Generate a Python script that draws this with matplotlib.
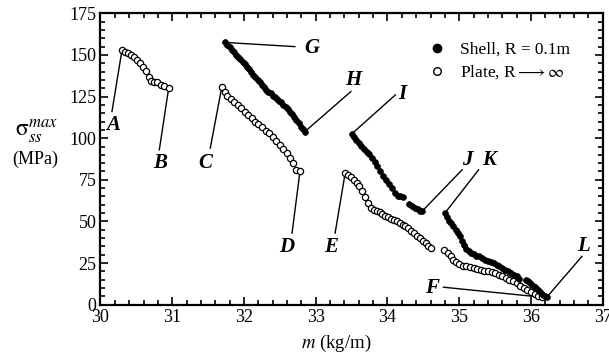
import numpy as np
import matplotlib
matplotlib.use('Agg')
import matplotlib.pyplot as plt
from matplotlib.ticker import MultipleLocator
from matplotlib.lines import Line2D

plt.rcParams['font.family'] = ['Liberation Serif', 'DejaVu Serif']
plt.rcParams['mathtext.fontset'] = 'stix'

# plate, R -> infinity (open circles)
plate_ab_m = [30.30, 30.34, 30.38, 30.42, 30.47, 30.51, 30.55, 30.59, 30.63, 30.67, 30.71, 30.75, 30.79, 30.84, 30.89, 30.95]
plate_ab_s = [153, 152, 151, 150, 148.5, 147, 145, 143, 140.5, 137, 134.5, 134, 133.5, 132, 131.5, 130]

plate_cd_m = [31.69, 31.73, 31.77, 31.82, 31.86, 31.91, 31.96, 32.01, 32.06, 32.11, 32.15, 32.20, 32.25, 32.30,
              32.35, 32.40, 32.45, 32.50, 32.55, 32.60, 32.64, 32.68, 32.73, 32.78]
plate_cd_s = [130.5, 127.5, 125.5, 123.5, 121.5, 120, 118, 116, 114, 112, 110, 108.5, 106.5, 104.5,
              103, 101, 98.5, 96, 93.5, 91, 88, 85, 81, 80]

plate_e_m = [33.41, 33.45, 33.49, 33.53, 33.57, 33.61, 33.65, 33.69, 33.73, 33.77, 33.81, 33.85, 33.89, 33.93,
             33.97, 34.01, 34.05, 34.09, 34.13, 34.17, 34.21, 34.25, 34.29, 34.33, 34.37, 34.41, 34.45, 34.49,
             34.53, 34.57, 34.61]
plate_e_s = [79, 78, 76.5, 75, 73, 71, 68, 64.5, 61, 58, 57, 56.5, 55.5, 54.5,
             53.5, 52.5, 51.5, 51, 50, 49, 48, 47, 46, 44.5, 43, 41.5, 40, 38.5,
             37, 35, 34]

plate_f_m = [34.79, 34.84, 34.88, 34.92, 34.96, 35.00, 35.05, 35.10, 35.15, 35.20, 35.25, 35.30, 35.35, 35.40,
             35.45, 35.50, 35.55, 35.60, 35.65, 35.70, 35.75, 35.80, 35.85, 35.90, 35.95, 36.00, 36.05, 36.10, 36.15]
plate_f_s = [33, 31, 29, 27, 25.5, 24.5, 23.5, 23, 22.5, 22, 21.5, 21, 20.5, 20,
             19.5, 19, 18, 17, 16, 15, 14, 13, 11.5, 10, 9, 7.5, 6.5, 5.5, 4.5]

# shell, R = 0.1 m (filled circles)
shell_gh_m = [31.74, 31.77, 31.80, 31.83, 31.86, 31.89, 31.92, 31.95, 31.98, 32.01, 32.04, 32.07, 32.10, 32.13,
              32.16, 32.19, 32.22, 32.25, 32.28, 32.31, 32.34, 32.37, 32.40, 32.43, 32.46, 32.49, 32.52, 32.55,
              32.58, 32.61, 32.64, 32.67, 32.70, 32.73, 32.76, 32.79, 32.82, 32.85]
shell_gh_s = [157.5, 156, 154.5, 153, 151.5, 150, 148.5, 147.5, 146, 144.5, 143, 141.5, 140, 138,
              136.5, 135, 133.5, 132, 130.5, 129, 128, 127, 125.5, 124.5, 123.5, 122.5, 121.5, 120,
              119, 117.5, 116, 114.5, 113, 111, 109, 107, 105.5, 104]

shell_ij_m = [33.50, 33.53, 33.56, 33.60, 33.63, 33.67, 33.71, 33.74, 33.78, 33.82, 33.86, 33.90, 33.94, 33.98,
              34.02, 34.06, 34.10, 34.14, 34.18, 34.22, 34.30, 34.34, 34.38, 34.42, 34.45, 34.48]
shell_ij_s = [102.5, 100.5, 99, 97, 95.5, 93.5, 92, 90.5, 88, 86, 83.5, 80.5, 77.5, 75,
              72.5, 70, 67, 65.5, 65, 64.5, 60.5, 59, 58, 57.5, 56.5, 56]

shell_kl_m = [34.80, 34.83, 34.86, 34.89, 34.92, 34.95, 34.98, 35.01, 35.04, 35.07, 35.10, 35.13, 35.16, 35.20,
              35.24, 35.28, 35.32, 35.36, 35.40, 35.44, 35.48, 35.52, 35.56, 35.60, 35.64, 35.68, 35.72, 35.76,
              35.80, 35.84, 35.93, 35.96, 35.99, 36.02, 36.05, 36.08, 36.11, 36.14, 36.17, 36.20, 36.22]
shell_kl_s = [55, 52.5, 50.5, 49, 47, 45, 43, 41, 38.5, 36, 33.5, 32, 31, 30.5,
              29.5, 29, 28, 27, 26, 25.5, 25, 24, 23, 22, 21, 20, 19, 18,
              17, 15.5, 15, 14, 13, 12, 10.5, 9.5, 8, 7, 6, 5, 4.5]

plate_segs = [(plate_ab_m, plate_ab_s), (plate_cd_m, plate_cd_s), (plate_e_m, plate_e_s), (plate_f_m, plate_f_s)]
shell_segs = [(shell_gh_m, shell_gh_s), (shell_ij_m, shell_ij_s), (shell_kl_m, shell_kl_s)]

# letter labels: (text, label pos, line start, target point)
labels = [
    ('A', (30.17, 108), (30.16, 116), (plate_ab_m[0], plate_ab_s[0])),
    ('B', (30.83, 85), (30.82, 93), (plate_ab_m[-1], plate_ab_s[-1])),
    ('C', (31.46, 85), (31.53, 94), (plate_cd_m[0], plate_cd_s[0])),
    ('D', (32.59, 34.6), (32.67, 43), (plate_cd_m[-1], plate_cd_s[-1])),
    ('E', (33.22, 34.6), (33.27, 43), (plate_e_m[0], plate_e_s[0])),
    ('F', (34.62, 10.3), (34.78, 10.5), (plate_f_m[-1], plate_f_s[-1])),
    ('G', (32.95, 154), (32.71, 155), (shell_gh_m[0], shell_gh_s[0])),
    ('H', (33.53, 135), (33.49, 128), (shell_gh_m[-1], shell_gh_s[-1])),
    ('I', (34.21, 126.5), (34.11, 126), (shell_ij_m[0], shell_ij_s[0])),
    ('J', (35.11, 87), (35.04, 81), (shell_ij_m[-1], shell_ij_s[-1])),
    ('K', (35.41, 87), (35.27, 81), (shell_kl_m[0], shell_kl_s[0])),
    ('L', (36.73, 35), (36.71, 29), (shell_kl_m[-1], shell_kl_s[-1])),
]

fig = plt.figure(figsize=(6.09, 3.57), dpi=100)
ax = fig.add_axes([0.165, 0.1465, 0.8247, 0.8162])

for m, s in plate_segs:
    ax.plot(m, s, 'o', ms=4.5, mfc='white', mec='black', mew=0.9, zorder=3)
for m, s in shell_segs:
    ax.plot(m, s, 'o', ms=4.2, mfc='black', mec='black', mew=0.5, zorder=3)

for txt, lp, ls, tp in labels:
    ax.plot([ls[0], tp[0]], [ls[1], tp[1]], '-', color='black', lw=1.0, zorder=2)
    ax.text(lp[0], lp[1], txt, ha='center', va='center', fontsize=15,
            fontweight='bold', fontstyle='italic')

ax.set_xlim(30, 37)
ax.set_ylim(0, 175)
ax.xaxis.set_major_locator(MultipleLocator(1))
ax.xaxis.set_minor_locator(MultipleLocator(0.2))
ax.yaxis.set_major_locator(MultipleLocator(25))
ax.yaxis.set_minor_locator(MultipleLocator(5))
ax.tick_params(which='both', direction='in', top=True, right=True, labelsize=13, width=1.2)
ax.tick_params(which='major', length=6, pad=3)
ax.tick_params(which='minor', length=3.5)
for sp in ax.spines.values():
    sp.set_linewidth(1.6)

h_shell = Line2D([], [], ls='none', marker='o', ms=6, mfc='black', mec='black')
h_plate = Line2D([], [], ls='none', marker='o', ms=5.5, mfc='white', mec='black', mew=1.0)
ax.legend([h_shell, h_plate], ['Shell, R = 0.1m', r'Plate, R$\longrightarrow\infty$'],
          loc='upper left', bbox_to_anchor=(0.653, 0.902), frameon=False, fontsize=12.5,
          handlelength=1.0, handletextpad=0.8, borderpad=0, borderaxespad=0, labelspacing=0.3)

fig.text((336 - 0) / 609, 1 - 343 / 357, r'$m$ (kg/m)', ha='center', va='center', fontsize=13.5)
fig.text(36 / 609, 1 - 131 / 357, r'$\mathrm{\sigma}_{ss}^{max}$', ha='center', va='center', fontsize=17)
fig.text(35 / 609, 1 - 159 / 357, '(MPa)', ha='center', va='center', fontsize=13)

fig.savefig('out.png', dpi=100)
